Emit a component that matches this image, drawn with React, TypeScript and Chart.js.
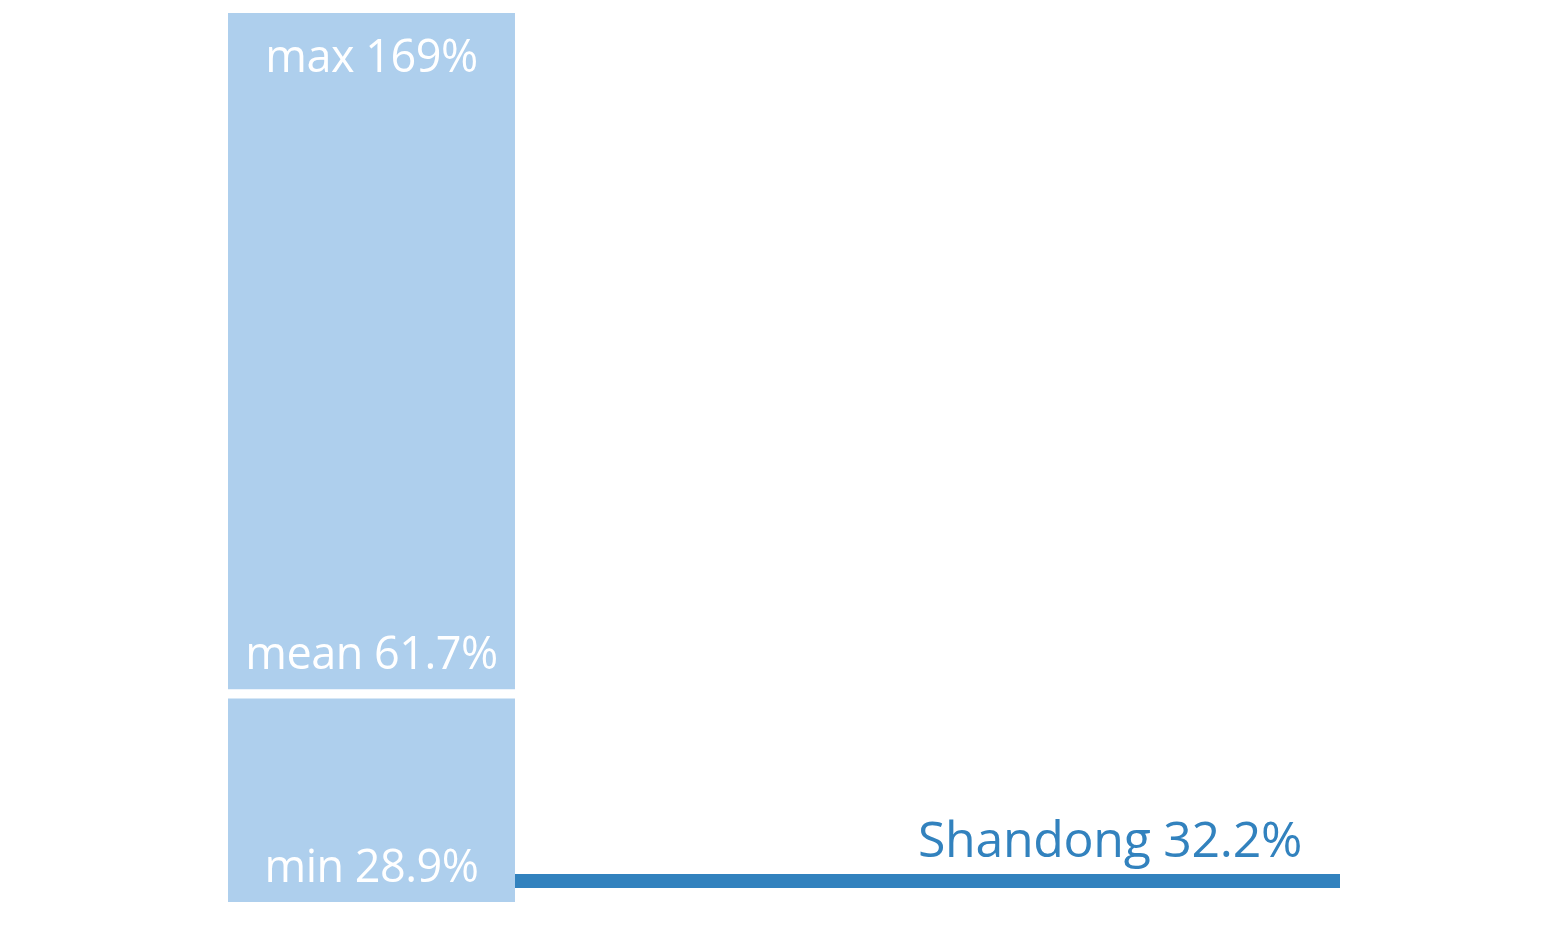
import React, { useEffect, useRef } from "react";
import { Chart, registerables } from "chart.js";

Chart.register(...registerables);

// ---- data ----
const statNames = ["min", "mean", "max"];
const statValues = [28.9, 61.7, 169];
const regionName = "Shandong";
const regionValue = 32.2;

const fmt = (v: number) => (v >= 100 ? v.toFixed(0) : v.toFixed(1)) + "%";

const BAR_COLOR = "#aecfed";
const LINE_COLOR = "#3282be";
const FONT = "'Open Sans', sans-serif";

// x extent expressed in bar-widths (layout, not data)
const X_MAX = 3.875;

export default function App() {
  const ref = useRef<HTMLCanvasElement | null>(null);

  useEffect(() => {
    document.body.style.margin = "0";
    const canvas = ref.current!;
    const [minV, meanV, maxV] = statValues;

    const labelPlugin = {
      id: "labels",
      afterDatasetsDraw(chart: any) {
        const ctx = chart.ctx;
        const xs = chart.scales.x;
        const ys = chart.scales.y;
        const cx = xs.getPixelForValue(0.5);
        ctx.save();
        ctx.fillStyle = "#ffffff";
        ctx.textAlign = "center";
        ctx.textBaseline = "alphabetic";
        ctx.font = `45px ${FONT}`;
        (ctx as any).letterSpacing = "-0.5px";
        ctx.fillText(`${statNames[2]} ${fmt(maxV)}`, cx, ys.getPixelForValue(maxV) + 59);
        ctx.fillText(`${statNames[1]} ${fmt(meanV)}`, cx, ys.getPixelForValue(meanV) - 25);
        ctx.fillText(`${statNames[0]} ${fmt(minV)}`, cx, ys.getPixelForValue(minV) - 20);
        (ctx as any).letterSpacing = "-0.3px";
        ctx.fillStyle = LINE_COLOR;
        ctx.textAlign = "right";
        ctx.font = `50px ${FONT}`;
        ctx.fillText(
          `${regionName} ${fmt(regionValue)}`,
          xs.getPixelForValue(X_MAX) - 38,
          ys.getPixelForValue(regionValue) - 24
        );
        ctx.restore();
      },
    };

    const chart = new Chart(canvas, {
      type: "bar",
      data: {
        datasets: [
          {
            type: "bar",
            data: [{ x: 0.5, y: [minV, meanV] }] as any,
            backgroundColor: BAR_COLOR,
            borderColor: "#ffffff",
            borderWidth: { top: 5, bottom: 0, left: 0, right: 0 } as any,
            borderSkipped: false,
            barThickness: 287,
            grouped: false,
          },
          {
            type: "bar",
            data: [{ x: 0.5, y: [meanV, maxV] }] as any,
            backgroundColor: BAR_COLOR,
            borderColor: "#ffffff",
            borderWidth: { top: 0, bottom: 5, left: 0, right: 0 } as any,
            borderSkipped: false,
            barThickness: 287,
            grouped: false,
          },
          {
            type: "line",
            data: [
              { x: 1, y: regionValue },
              { x: X_MAX, y: regionValue },
            ] as any,
            borderColor: LINE_COLOR,
            borderWidth: 14,
            borderCapStyle: "butt",
            pointRadius: 0,
            fill: false,
          } as any,
        ],
      },
      options: {
        responsive: false,
        animation: false,
        layout: { padding: { left: 228, right: 222, top: 13, bottom: 35 } },
        plugins: { legend: { display: false }, tooltip: { enabled: false } },
        scales: {
          x: { type: "linear", min: 0, max: X_MAX, display: false, offset: false, grid: { offset: false } },
          y: { type: "linear", min: minV, max: maxV, display: false },
        },
      },
      plugins: [labelPlugin],
    });
    return () => chart.destroy();
  }, []);

  return (
    <div style={{ position: "absolute", left: 0, top: 0, width: 1562, height: 937, background: "#fff" }}>
      <canvas ref={ref} width={1562} height={937} style={{ display: "block" }} />
    </div>
  );
}
